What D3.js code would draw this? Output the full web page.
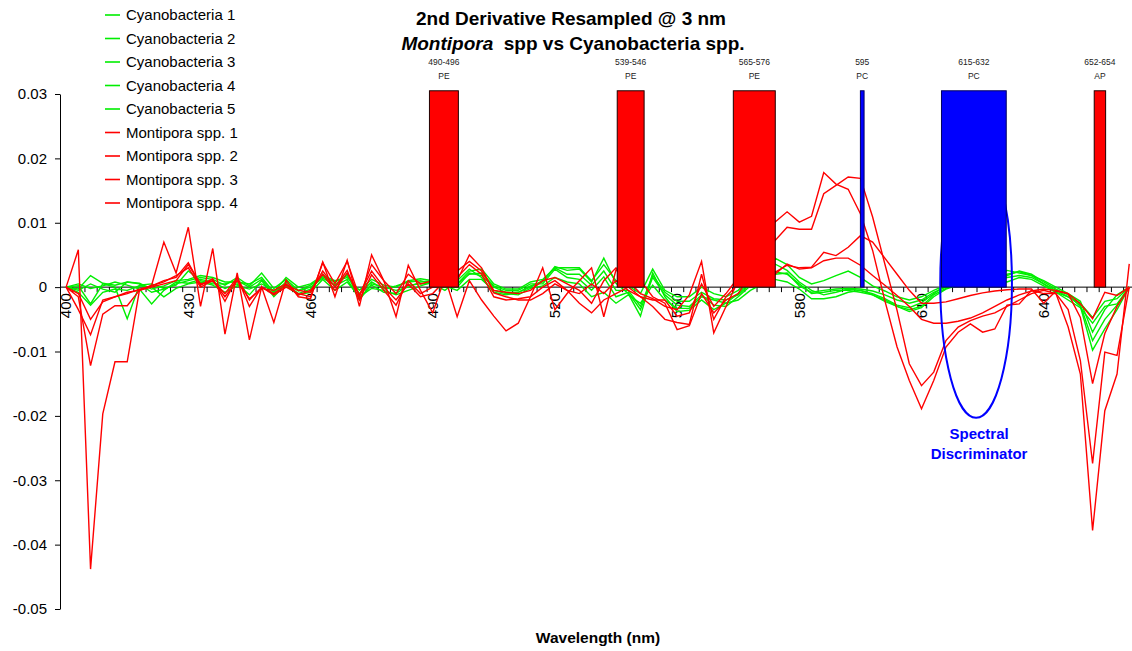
<!DOCTYPE html>
<html><head><meta charset="utf-8">
<script src="https://cdn.jsdelivr.net/npm/d3@7"></script>
<style>
body{margin:0;background:#fff;}
text{font-family:"Liberation Sans",Arial,sans-serif;}
</style></head><body>
<svg id="chart" width="1132" height="651"></svg>
<script>
// ---------------- data ----------------
const wavelengths = [400,403,406,409,412,415,418,421,424,427,430,433,436,439,442,445,448,451,454,457,
460,463,466,469,472,475,478,481,484,487,490,493,496,499,502,505,508,511,514,517,
520,523,526,529,532,535,538,541,544,547,550,553,556,559,562,565,568,571,574,577,
580,583,586,589,592,595,598,601,604,607,610,613,616,619,622,625,628,631,634,637,
640,643,646,649,652,655,658,661];
const xTickLabels = [400,430,460,490,520,550,580,610,640];
const yTickValues = [0.03,0.02,0.01,0,-0.01,-0.02,-0.03,-0.04,-0.05];
const yTickLabels = ["0.03","0.02","0.01","0","-0.01","-0.02","-0.03","-0.04","-0.05"];
const seriesNames = ["Cyanobacteria 1","Cyanobacteria 2","Cyanobacteria 3","Cyanobacteria 4","Cyanobacteria 5",
"Montipora spp. 1","Montipora spp. 2","Montipora spp. 3","Montipora spp. 4"];

const cyano1 = [0,-0.0003,0.0018,0.0006,0.0003,0.0008,0.0005,-0.0008,-0.0003,0.0005,
0.0010,0.0015,0.0012,0.0003,0.0015,0.0002,0.0022,-0.0002,0.0012,-0.0005,
0.0003,0.0016,0.0008,0.0018,-0.0010,0.0008,-0.0003,0.0002,0.0008,0.0010,
0.0005,-0.0005,0.0010,0.0028,0.0015,-0.0008,-0.0012,-0.0008,0.0002,0.0008,
0.0032,0.0026,0.0028,0.0008,0.0045,0.0006,-0.0010,-0.0045,0.0022,-0.0015,
-0.0038,-0.0036,-0.0020,-0.0035,-0.0025,-0.0010,0.0010,0.0025,0.0036,0.0026,
0.0008,-0.0005,-0.0012,-0.0008,-0.0003,-0.0005,-0.0010,-0.0018,-0.0028,-0.0032,
-0.0024,-0.0010,0.0003,0.0008,0.0012,0.0015,0.0018,0.0020,0.0024,0.0018,
0.0005,-0.0008,-0.0020,-0.0032,-0.0056,-0.0030,-0.0026,0];
const cyano2 = [0,0.0005,-0.0002,0.0002,0.0008,0.0003,-0.0003,-0.0026,-0.0005,0.0008,
0.0006,0.0012,0.0008,-0.0002,0.0005,-0.0012,0.0010,-0.0015,0.0005,-0.0010,
-0.0003,0.0020,0.0002,0.0012,-0.0018,0.0003,-0.0008,-0.0010,0.0003,0.0005,
0.0006,0,0.0005,0.0020,0.0022,0.0002,-0.0005,-0.0005,0.0005,0.0005,
0.0028,0.0015,0.0012,-0.0005,0.0016,-0.0015,-0.0008,-0.0035,0.0015,-0.0012,
-0.0028,-0.0030,-0.0012,-0.0028,-0.0030,-0.0015,0.0002,0.0015,0.0020,0.0022,
0.0002,-0.0008,-0.0005,-0.0003,-0.0002,-0.0003,-0.0006,-0.0012,-0.0020,-0.0025,
-0.0020,-0.0008,0,0.0005,0.0008,0.0010,0.0012,0.0008,0.0015,0.0012,
0.0002,-0.0008,-0.0015,-0.0025,-0.0047,-0.0022,-0.0018,0];
const cyano3 = [0,-0.0008,-0.0028,-0.0008,-0.0003,-0.0005,0.0002,0,-0.0015,-0.0002,
0.0005,0.0008,0.0003,-0.0008,0.0002,-0.0003,0.0005,-0.0005,0.0002,-0.0012,
-0.0008,0.0012,-0.0005,0.0008,-0.0015,-0.0002,-0.0005,-0.0012,-0.0005,0.0002,
0.0008,0.0002,-0.0005,0.0012,0.0012,-0.0005,-0.0010,-0.0012,-0.0002,0.0002,
0.0015,0.0008,0.0005,-0.0015,-0.0008,-0.0025,-0.0012,-0.0025,0.0003,-0.0020,
-0.0033,-0.0033,-0.0015,-0.0020,-0.0025,-0.0020,-0.0005,0.0005,0.0012,0.0008,
-0.0003,-0.0018,-0.0018,-0.0015,-0.0008,-0.0005,-0.0012,-0.0022,-0.0030,-0.0038,
-0.0032,-0.0015,-0.0003,0.0003,0.0006,0.0008,0.0010,0.0018,0.0025,0.0020,
0.0008,-0.0003,-0.0012,-0.0030,-0.0098,-0.0065,-0.0035,0];
const cyano4 = [0,0.0002,-0.0026,0.0005,0,-0.0049,0.0003,0.0005,-0.0002,0.0003,
0.0025,0.0010,0.0005,0.0005,0.0010,0,0.0012,-0.0010,0.0008,-0.0006,
0,0.0014,0.0003,0.0020,-0.0020,0.0005,0,-0.0005,0,0.0008,
0.0010,0.0005,0,0.0022,0.0018,0,-0.0008,-0.0008,0,0.0010,
0.0030,0.0020,0.0020,0.0003,0.0025,-0.0005,-0.0005,-0.0030,0.0018,-0.0008,
-0.0022,-0.0022,-0.0008,-0.0018,-0.0020,-0.0012,0.0005,0.0015,0.0024,0.0020,
0.0005,-0.0010,-0.0008,-0.0005,-0.0005,-0.0008,-0.0012,-0.0020,-0.0030,-0.0035,
-0.0030,-0.0012,-0.0002,0.0005,0.0008,0.0010,0.0012,0.0015,0.0018,0.0015,
0.0005,-0.0005,-0.0015,-0.0028,-0.0083,-0.0050,-0.0028,0];
const cyano5 = [0,-0.0005,0.0005,-0.0003,-0.0008,0.0008,0.0006,-0.0003,0.0002,0.0010,
0.0012,0.0018,0.0015,0.0008,0.0008,0.0005,0.0015,-0.0008,0.0015,0,
0.0005,0.0018,0.0010,0.0015,-0.0005,0.0012,0.0003,0,0.0010,0.0013,
0.0010,0.0008,0.0005,0.0025,0.0028,0.0005,-0.0003,-0.0003,0.0008,0.0012,
0.0030,0.0030,0.0030,0.0010,0.0035,0.0010,0.0002,-0.0010,0.0028,-0.0005,
-0.0015,-0.0015,0,-0.0010,-0.0015,-0.0005,0.0015,0.0028,0.0045,0.0035,
0.0015,0.0005,0.0010,0.0018,0.0025,0.0015,0.0002,-0.0006,-0.0015,-0.0020,
-0.0015,-0.0005,0.0003,0.0008,0.0010,0.0012,0.0015,0.0026,0.0022,0.0018,
0.0010,0,-0.0010,-0.0022,-0.0070,-0.0035,-0.0012,0];
const montipora1 = [0,-0.0010,-0.0050,-0.0023,-0.0015,-0.0008,-0.0005,0.0003,0.0070,0.0022,
0.0093,-0.0030,0.0060,-0.0073,0.0022,-0.0082,0,-0.0055,0.0011,-0.0015,
-0.0018,0.0039,-0.0015,0.0042,-0.0030,0.0050,0.0010,-0.0046,0.0034,-0.0005,
-0.0040,0.0015,-0.0046,0.0010,-0.0020,-0.0045,-0.0068,-0.0056,-0.0015,0.0030,
-0.0035,-0.0010,0.0010,0.0030,-0.0046,0.0027,0.0010,-0.0010,-0.0018,-0.0030,
-0.0035,-0.0012,0.0040,-0.0071,-0.0030,0.0010,0.0020,0.0030,0.0023,0.0034,
0.0030,0.0031,0.0054,0.0049,0.0062,0.0080,0.0070,0.0045,0.0020,-0.0005,
-0.0025,-0.0025,-0.0023,-0.0018,-0.0013,-0.0009,-0.0006,-0.0004,-0.0003,-0.0003,
-0.0025,-0.0006,-0.0010,-0.0047,-0.0150,-0.0072,-0.0030,0];
const montipora2 = [0,0.0058,-0.0438,-0.0197,-0.0116,-0.0116,-0.0005,0,0.0005,0.0010,
0.0035,0.0005,0.0010,-0.0010,0.0015,-0.0020,0,-0.0010,0.0003,-0.0005,
-0.0008,0.0025,0,0.0026,-0.0020,0.0019,-0.0005,-0.0028,0.0010,-0.0010,
0,0.0008,0.0010,0.0050,0.0030,-0.0009,-0.0015,-0.0020,-0.0020,-0.0010,
0.0005,-0.0005,-0.0025,-0.0040,-0.0020,-0.0010,0,0.0010,-0.0015,-0.0025,
-0.0066,-0.0060,-0.0010,-0.0040,-0.0020,-0.0010,0.0020,0.0060,0.0101,0.0117,
0.0101,0.0110,0.0178,0.0160,0.0152,0.0114,0.0057,-0.0021,-0.0093,-0.0145,
-0.0189,-0.0145,-0.0093,-0.0070,-0.0057,-0.0070,-0.0065,-0.0028,-0.0026,-0.0005,
-0.0010,-0.0010,-0.0062,-0.0135,-0.0378,-0.0192,-0.0135,0.0036];
const montipora3 = [0,-0.0015,-0.0122,-0.0042,-0.0029,-0.0029,-0.0005,0.0002,0.0010,0.0015,
0.0038,0.0003,0.0013,-0.0022,0.0015,-0.0030,0,-0.0012,0,-0.0010,
-0.0015,0.0038,0.0005,0.0040,-0.0015,0.0035,0.0010,-0.0010,0.0020,0.0005,
0.0010,0.0020,0.0025,0.0040,0.0025,-0.0005,-0.0008,-0.0010,-0.0005,0.0010,
0.0015,0.0005,-0.0005,-0.0025,0.0010,0.0030,0,-0.0015,-0.0030,-0.0050,
-0.0055,-0.0058,0.0020,-0.0050,-0.0015,0.0005,0.0030,0.0055,0.0072,0.0093,
0.0090,0.0090,0.0145,0.0158,0.0171,0.0169,0.0109,0.0036,-0.0036,-0.0119,
-0.0153,-0.0132,-0.0083,-0.0062,-0.0052,-0.0045,-0.0040,-0.0030,-0.0020,-0.0010,
-0.0005,-0.0010,-0.0035,-0.0114,-0.0274,-0.0101,-0.0106,0];
const montipora4 = [0,-0.0035,-0.0074,-0.0020,-0.0015,-0.0010,-0.0003,0.0002,0.0008,0.0018,
0.0030,0,0.0010,-0.0015,0.0010,-0.0018,-0.0002,-0.0005,0.0005,-0.0012,
-0.0005,0.0020,-0.0005,0.0022,-0.0012,0.0025,0,-0.0020,0.0005,-0.0015,
-0.0010,0.0010,0.0015,0.0035,0.0020,-0.0015,-0.0020,-0.0018,-0.0015,0,
0.0010,-0.0005,-0.0010,0.0005,-0.0010,0.0010,-0.0005,-0.0015,-0.0020,-0.0020,
-0.0045,-0.0040,0.0005,-0.0030,-0.0010,0.0015,0.0020,0.0020,0.0020,0.0036,
0.0028,0.0030,0.0041,0.0045,0.0045,0.0034,0.0018,0.0003,-0.0013,-0.0030,
-0.0050,-0.0056,-0.0056,-0.0053,-0.0048,-0.0040,-0.0030,-0.0020,-0.0012,-0.0006,
-0.0003,-0.0005,-0.0010,-0.0026,-0.0049,-0.0008,-0.0013,0];

// pigment bands
const bandLabels = ["490-496","539-546","565-576","595","615-632","652-654"];
const bandPigments = ["PE","PE","PE","PC","PC","AP"];
const bandStart = [489.2,535.3,563.8,595.0,614.9,652.4];
const bandEnd   = [496.3,541.9,574.1,595.9,630.8,655.2];
const bandTop = 0.0305;
// spectral discriminator ellipse (wavelength centre, half-width nm, value centre, value bottom)
const discWave = [623.4, 8.8];
const discValue = [0.0006, -0.0203];

// ---------------- chart ----------------
const svg = d3.select("#chart");
const step = 12.22;
const x = d3.scaleBand().domain(wavelengths).range([60, 60 + wavelengths.length * step]).paddingInner(0).paddingOuter(0);
const bw = x.bandwidth();
const xc = v => x(v) + bw / 2;
const xLin = d3.scaleLinear().domain([wavelengths[0], wavelengths[wavelengths.length-1]])
  .range([xc(wavelengths[0]), xc(wavelengths[wavelengths.length-1])]);
const y = d3.scaleLinear().domain([-0.05, 0.03]).range([609, 94]);

const seriesData = [cyano1,cyano2,cyano3,cyano4,cyano5,montipora1,montipora2,montipora3,montipora4];
const seriesColors = ["#00ee00","#00ee00","#00ee00","#00ee00","#00ee00","#ff0000","#ff0000","#ff0000","#ff0000"];

// Y axis
const yAxis = svg.append("g").attr("transform","translate(60,0)")
  .call(d3.axisLeft(y).tickValues(yTickValues).tickSize(5).tickSizeOuter(0)
    .tickFormat((d,i) => yTickLabels[i]));
yAxis.select(".domain").attr("stroke","#000");
yAxis.selectAll("text").attr("font-size","15px").attr("fill","#000").attr("x",-13);
yAxis.selectAll("line").attr("stroke","#000");

// X axis at zero
const gx = svg.append("g");
gx.append("line").attr("x1",60).attr("x2",x.range()[1]).attr("y1",y(0)).attr("y2",y(0))
  .attr("stroke","#000").attr("stroke-width",1);
gx.selectAll("line.tk").data(wavelengths).enter().append("line").attr("class","tk")
  .attr("x1",d=>x(d)+0.5).attr("x2",d=>x(d)+0.5).attr("y1",y(0)).attr("y2",y(0)+5)
  .attr("stroke","#000");
gx.selectAll("text").data(xTickLabels).enter().append("text")
  .attr("transform",d=>`translate(${xc(d)},${y(0)+6}) rotate(-90)`)
  .attr("text-anchor","end").attr("dy","0.35em").attr("font-size","15px").attr("fill","#000")
  .text(d=>d);

// lines
const line = d3.line().x((d,i)=>xc(wavelengths[i])).y(d=>y(d));
seriesData.forEach((s,k)=>{
  svg.append("path").datum(s).attr("d",line).attr("fill","none")
    .attr("stroke",seriesColors[k]).attr("stroke-width",1.4).attr("stroke-linejoin","miter");
});

// spectral discriminator ellipse
const ecx = xLin(discWave[0]);
const erx = xLin(discWave[0]+discWave[1]) - ecx;
const ecy = y(discValue[0]);
const ery = y(discValue[1]) - ecy;
svg.append("ellipse").attr("cx",ecx).attr("cy",ecy).attr("rx",erx).attr("ry",ery)
  .attr("fill","none").attr("stroke","#0000ff").attr("stroke-width",2);

// pigment band bars
const bands = bandLabels.map((l,i)=>({label:l,pig:bandPigments[i],s:bandStart[i],e:bandEnd[i]}));
svg.selectAll("rect.band").data(bands).enter().append("rect").attr("class","band")
  .attr("x",d=>xLin(d.s)).attr("width",d=>xLin(d.e)-xLin(d.s))
  .attr("y",y(bandTop)).attr("height",y(0)-y(bandTop))
  .attr("fill",d=>d.pig==="PC"?"#0000ff":"#ff0000")
  .attr("stroke",d=>d.pig==="PC"?"#000060":"#200000").attr("stroke-width",1);
svg.selectAll("text.bl").data(bands).enter().append("text").attr("class","bl")
  .attr("x",d=>(xLin(d.s)+xLin(d.e))/2).attr("y",65).attr("text-anchor","middle")
  .attr("font-size","8.5px").attr("fill","#222").text(d=>d.label);
svg.selectAll("text.bp").data(bands).enter().append("text").attr("class","bp")
  .attr("x",d=>(xLin(d.s)+xLin(d.e))/2).attr("y",79).attr("text-anchor","middle")
  .attr("font-size","8.5px").attr("fill","#222").text(d=>d.pig);

// discriminator label
const dl = svg.append("text").attr("x",ecx+3).attr("y",439).attr("text-anchor","middle")
  .attr("font-size","15px").attr("font-weight","bold").attr("fill","#0000ff");
dl.append("tspan").attr("x",ecx+3).text("Spectral");
dl.append("tspan").attr("x",ecx+3).attr("dy",20).text("Discriminator");

// title
svg.append("text").attr("x",571).attr("y",25).attr("text-anchor","middle")
  .attr("font-size","19px").attr("font-weight","bold").attr("fill","#000")
  .text("2nd Derivative Resampled @ 3 nm");
const t2 = svg.append("text").attr("x",573).attr("y",50).attr("text-anchor","middle")
  .attr("font-size","19px").attr("font-weight","bold").attr("fill","#000");
t2.append("tspan").attr("font-style","italic").text("Montipora");
t2.append("tspan").text("\u00a0 spp vs Cyanobacteria spp.");

// axis title
svg.append("text").attr("x",598).attr("y",643).attr("text-anchor","middle")
  .attr("font-size","15.5px").attr("font-weight","bold").attr("fill","#000").text("Wavelength (nm)");

// legend
const lg = svg.append("g");
seriesNames.forEach((n,i)=>{
  const yy = 15 + i*23.5;
  lg.append("line").attr("x1",105).attr("x2",120).attr("y1",yy).attr("y2",yy)
    .attr("stroke",seriesColors[i]).attr("stroke-width",1.6);
  lg.append("text").attr("x",126).attr("y",yy).attr("dy","0.35em").attr("font-size","15px")
    .attr("fill","#000").text(n);
});
</script>
</body></html>
